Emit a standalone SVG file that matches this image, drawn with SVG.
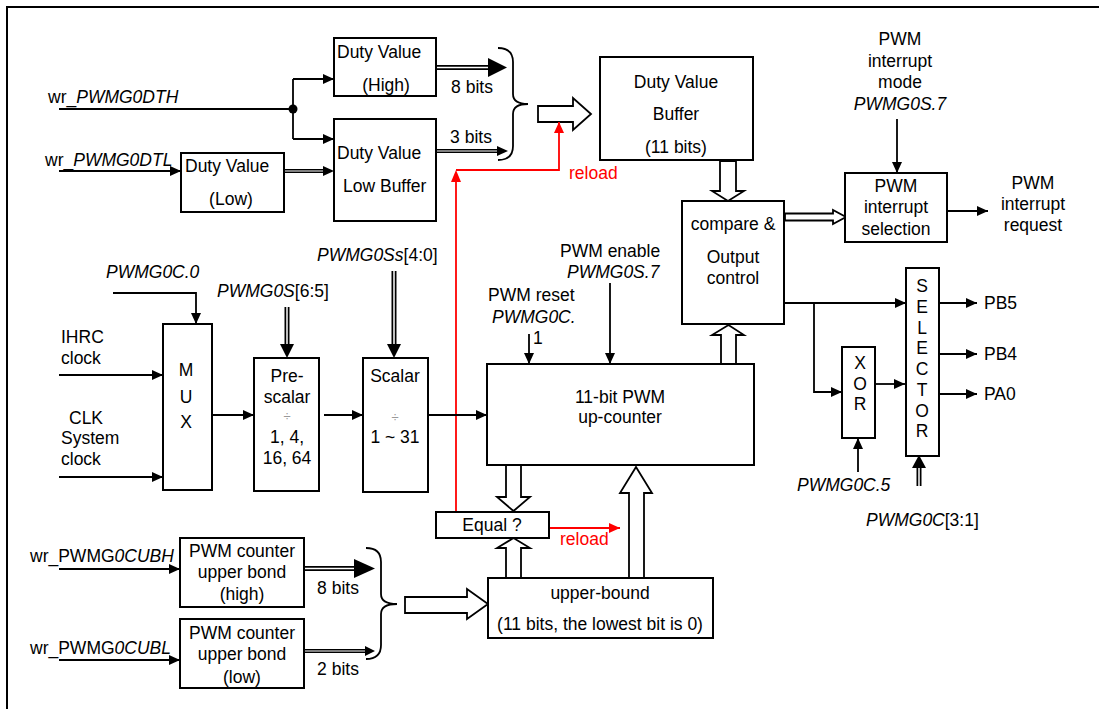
<svg xmlns="http://www.w3.org/2000/svg" width="1099" height="709" viewBox="0 0 1099 709">
<defs>
<marker id="ah" markerUnits="userSpaceOnUse" markerWidth="11" markerHeight="10" refX="11" refY="5" orient="auto"><path d="M0,0 L11,5 L0,10 z" fill="#000"/></marker>
<marker id="ahr" markerUnits="userSpaceOnUse" markerWidth="11" markerHeight="10" refX="11" refY="5" orient="auto"><path d="M0,0 L11,5 L0,10 z" fill="#f00"/></marker>
<style>
text{font-family:"Liberation Sans",Arial,sans-serif;font-size:17.5px;fill:#000}
.c{text-anchor:middle}
.i{font-style:italic}
.red{fill:#f00}
.div{fill:#999;font-size:13px}
.box{fill:#fff;stroke:#000;stroke-width:2}
.ln{fill:none;stroke:#000;stroke-width:1.8}
.rl{fill:none;stroke:#f00;stroke-width:1.8}
.hol{fill:#fff;stroke:#000;stroke-width:1.8;stroke-linejoin:miter}
.dbo{stroke:#000;stroke-width:5;fill:none}
.dbi{stroke:#fff;stroke-width:1.5;fill:none}
.dto{stroke:#000;stroke-width:4;fill:none}
.dti{stroke:#fff;stroke-width:1.2;fill:none}
.hd{fill:#000}
</style>
</defs>
<rect width="1099" height="709" fill="#fff"/>
<path d="M7,709 L7,7 L1099,7" fill="none" stroke="#000" stroke-width="2"/>

<g id="connectors">
<path class="ln" d="M59,109 L293,109"/>
<path class="ln" d="M293,79 L293,139"/>
<path class="ln" d="M293,79 L334,79" marker-end="url(#ah)"/>
<path class="ln" d="M293,139 L334,139" marker-end="url(#ah)"/>
<circle cx="293" cy="109" r="4.5" fill="#000"/>
<path class="ln" d="M59,171 L181,171" marker-end="url(#ah)"/>
<path class="dto" d="M284,171 L325,171"/><path class="dti" d="M284,171 L325,171"/>
<polygon class="hd" points="323,166 334,171 323,176"/>
<path class="dbo" d="M437,67.5 L490,67.5"/><path class="dbi" d="M437,67.5 L490,67.5"/>
<polygon class="hd" points="488,58 507,67.5 488,77"/>
<path class="dto" d="M437,151 L499,151"/><path class="dti" d="M437,151 L499,151"/>
<polygon class="hd" points="497,146 508,151 497,156"/>
<path class="ln" d="M498,48 Q513,48 513,62 L513,94 Q513,104 528,104 Q513,104 513,114 L513,146 Q513,160 498,160"/>
<polygon class="hol" points="538,106 573,106 573,98 591,114 573,130 573,122 538,122"/>
<path class="rl" d="M456,512 L456,181"/>
<polygon fill="#f00" points="451,182 456,170 461,182"/>
<path class="rl" d="M456,170 L559,170 L559,122" marker-end="url(#ahr)"/>
<polygon class="hol" points="720,161 736,161 736,191 744,191 728,201 712,191 720,191"/>
<polygon class="hol" points="785,213.5 833,213.5 833,210 846,217 833,224 833,220.5 785,220.5"/>
<path class="ln" d="M897,119 L897,173" marker-end="url(#ah)"/>
<path class="ln" d="M947,211 L988,211" marker-end="url(#ah)"/>
<path class="ln" d="M113,293 L196,293 L196,324" marker-end="url(#ah)"/>
<path class="ln" d="M59,375 L163,375" marker-end="url(#ah)"/>
<path class="ln" d="M59,477 L163,477" marker-end="url(#ah)"/>
<path class="ln" d="M212,415 L254,415" marker-end="url(#ah)"/>
<path class="ln" d="M324,415 L363,415" marker-end="url(#ah)"/>
<path class="ln" d="M428,415 L487,415" marker-end="url(#ah)"/>
<path class="dbo" d="M287,307 L287,345"/><path class="dbi" d="M287,307 L287,345"/>
<polygon class="hd" points="280,344 294,344 287,358"/>
<path class="dbo" d="M394,271 L394,345"/><path class="dbi" d="M394,271 L394,345"/>
<polygon class="hd" points="387,344 401,344 394,358"/>
<path class="ln" d="M529,334 L529,364" marker-end="url(#ah)"/>
<path class="ln" d="M610,283 L610,364" marker-end="url(#ah)"/>
<polygon class="hol" points="721,364 721,335 712,335 728.5,325 744,335 736,335 736,364"/>
<path class="ln" d="M784,303 L906,303" marker-end="url(#ah)"/>
<path class="ln" d="M814,303 L814,392 L842,392" marker-end="url(#ah)"/>
<path class="ln" d="M875,384 L905,384" marker-end="url(#ah)"/>
<path class="ln" d="M858,472 L858,438" marker-end="url(#ah)"/>
<path class="dbo" d="M919,486 L919,467"/><path class="dbi" d="M919,486 L919,467"/>
<polygon class="hd" points="912,468 926,468 919,455"/>
<path class="ln" d="M939,303 L977,303" marker-end="url(#ah)"/>
<path class="ln" d="M939,354 L977,354" marker-end="url(#ah)"/>
<path class="ln" d="M939,394 L977,394" marker-end="url(#ah)"/>
<polygon class="hol" points="506,465 521,465 521,497 530,497 513.5,511 497,497 506,497"/>
<polygon class="hol" points="506,578 506,548 497,548 513.5,538 530,548 521,548 521,578"/>
<polygon class="hol" points="629,578 629,493 620,493 636,467 652,493 644,493 644,578"/>
<path class="rl" d="M549,528 L620,528" marker-end="url(#ahr)"/>
<path class="ln" d="M59,569 L180,569" marker-end="url(#ah)"/>
<path class="ln" d="M59,660 L180,660" marker-end="url(#ah)"/>
<path class="dbo" d="M304,568.5 L356,568.5"/><path class="dbi" d="M304,568.5 L356,568.5"/>
<polygon class="hd" points="354,559 375,568.5 354,578"/>
<path class="dto" d="M304,651 L367,651"/><path class="dti" d="M304,651 L367,651"/>
<polygon class="hd" points="365,646 375,651 365,656"/>
<path class="ln" d="M366,548 Q381,548 381,562 L381,594 Q381,604 397,604 Q381,604 381,614 L381,645 Q381,659 366,659"/>
<polygon class="hol" points="405,597 467,597 467,589 488,604 467,619 467,613 405,613"/>
</g>

<g id="labels">
<text x="48" y="103">wr_<tspan class="i">PWMG0DTH</tspan></text>
<text x="45" y="166">wr_<tspan class="i">PWMG0DTL</tspan></text>
<text class="c" x="472" y="93">8 bits</text>
<text class="c" x="471" y="143">3 bits</text>
<text class="red" x="569" y="179">reload</text>
<text class="c" x="900" y="45">PWM</text>
<text class="c" x="900" y="67">interrupt</text>
<text class="c" x="900" y="88">mode</text>
<text class="c i" x="900" y="110">PWMG0S.7</text>
<text class="c" x="1033" y="189">PWM</text>
<text class="c" x="1033" y="210">interrupt</text>
<text class="c" x="1033" y="231">request</text>
<text class="i" x="106" y="278">PWMG0C.0</text>
<text x="217" y="297"><tspan class="i">PWMG0S</tspan>[6:5]</text>
<text x="317" y="261"><tspan class="i">PWMG0Ss</tspan>[4:0]</text>
<text x="61" y="343">IHRC</text>
<text x="61" y="364">clock</text>
<text x="69" y="424">CLK</text>
<text x="61" y="444">System</text>
<text x="61" y="465">clock</text>
<text x="560" y="257">PWM enable</text>
<text class="i" x="567" y="278">PWMG0S.7</text>
<text x="488" y="301">PWM reset</text>
<text class="i" x="492" y="323">PWMG0C.</text>
<text x="533" y="344">1</text>
<text x="984" y="309">PB5</text>
<text x="984" y="360">PB4</text>
<text x="984" y="400">PA0</text>
<text class="i" x="797" y="491">PWMG0C.5</text>
<text x="866" y="526"><tspan class="i">PWMG0C</tspan>[3:1]</text>
<text class="red" x="560" y="545">reload</text>
<text x="30" y="562">wr_PWMG<tspan class="i">0CUBH</tspan></text>
<text x="30" y="654">wr_PWMG<tspan class="i">0CUBL</tspan></text>
<text class="c" x="338" y="594">8 bits</text>
<text class="c" x="338" y="675">2 bits</text>
</g>

<g id="duty-high"><rect class="box" x="334" y="38" width="102" height="58"/>
<text x="337" y="58">Duty Value</text><text class="c" x="386" y="91">(High)</text></g>
<g id="duty-low-buffer"><rect class="box" x="334" y="119" width="102" height="102"/>
<text x="337" y="159">Duty Value</text><text x="343" y="192">Low Buffer</text></g>
<g id="duty-low"><rect class="box" x="181" y="153" width="103" height="59"/>
<text x="185" y="172">Duty Value</text><text class="c" x="231" y="205">(Low)</text></g>
<g id="duty-buffer"><rect class="box" x="600" y="57" width="153" height="103"/>
<text class="c" x="676" y="88">Duty Value</text><text class="c" x="676" y="120">Buffer</text><text class="c" x="676" y="153">(11 bits)</text></g>
<g id="compare"><rect class="box" x="682" y="201" width="102" height="123"/>
<text class="c" x="733" y="230">compare &amp;</text><text class="c" x="733" y="263">Output</text><text class="c" x="733" y="284">control</text></g>
<g id="int-sel"><rect class="box" x="845" y="173" width="102" height="69"/>
<text class="c" x="896" y="192">PWM</text><text class="c" x="896" y="213">interrupt</text><text class="c" x="896" y="235">selection</text></g>
<g id="mux"><rect class="box" x="163" y="324" width="49" height="166"/>
<text class="c" x="186" y="376">M</text><text class="c" x="186" y="403">U</text><text class="c" x="186" y="428">X</text></g>
<g id="prescalar"><rect class="box" x="254" y="358" width="65" height="133"/>
<text class="c" x="287" y="382">Pre-</text><text class="c" x="287" y="403">scalar</text><text class="c div" x="287" y="421">÷</text><text class="c" x="287" y="443">1, 4,</text><text class="c" x="287" y="464">16, 64</text></g>
<g id="scalar"><rect class="box" x="363" y="358" width="65" height="134"/>
<text class="c" x="395" y="382">Scalar</text><text class="c div" x="395" y="422">÷</text><text class="c" x="395" y="443">1 ~ 31</text></g>
<g id="counter"><rect class="box" x="487" y="364" width="267" height="101"/>
<text class="c" x="620" y="403">11-bit PWM</text><text class="c" x="620" y="423">up-counter</text></g>
<g id="xor"><rect class="box" x="842" y="347" width="33" height="91"/>
<text class="c" x="860" y="369">X</text><text class="c" x="860" y="390">O</text><text class="c" x="860" y="410">R</text></g>
<g id="selector"><rect class="box" x="906" y="268" width="33" height="188"/>
<text class="c" x="922" y="292">S</text><text class="c" x="922" y="313">E</text><text class="c" x="922" y="334">L</text><text class="c" x="922" y="354">E</text><text class="c" x="922" y="375">C</text><text class="c" x="922" y="396">T</text><text class="c" x="922" y="417">O</text><text class="c" x="922" y="437">R</text></g>
<g id="equal"><rect class="box" x="436" y="512" width="113" height="26"/>
<text class="c" x="492" y="531">Equal ?</text></g>
<g id="upper-bound"><rect class="box" x="488" y="578" width="225" height="60"/>
<text class="c" x="600" y="599">upper-bound</text><text class="c" x="600" y="630">(11 bits, the lowest bit is 0)</text></g>
<g id="ub-high"><rect class="box" x="180" y="538" width="124" height="69"/>
<text class="c" x="242" y="557">PWM counter</text><text class="c" x="242" y="578">upper bond</text><text class="c" x="242" y="600">(high)</text></g>
<g id="ub-low"><rect class="box" x="180" y="619" width="124" height="69"/>
<text class="c" x="242" y="639">PWM counter</text><text class="c" x="242" y="660">upper bond</text><text class="c" x="242" y="683">(low)</text></g>
</svg>
